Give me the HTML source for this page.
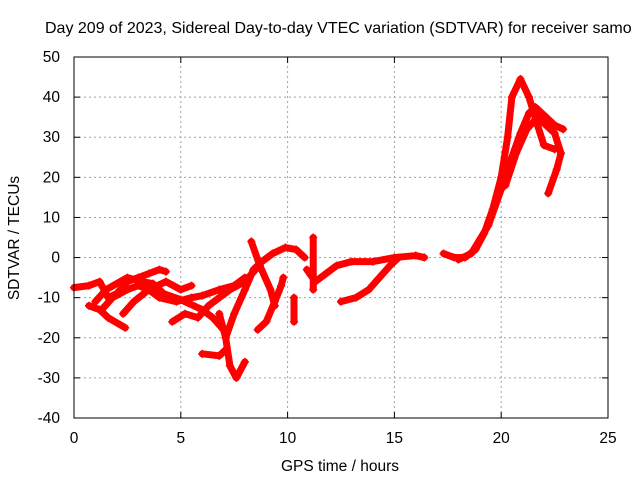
<!DOCTYPE html>
<html><head><meta charset="utf-8"><style>
body{margin:0;background:#fff}
svg text{font-family:"Liberation Sans",sans-serif;font-size:15.5px;fill:#000}
</style></head><body>
<svg id="chart" width="640" height="480">
<text x="45" y="33" style="font-size:16px">Day 209 of 2023, Sidereal Day-to-day VTEC variation (SDTVAR) for receiver samo</text>
<text x="340" y="471" text-anchor="middle">GPS time / hours</text>
<text transform="translate(19,238) rotate(-90)" text-anchor="middle">SDTVAR / TECUs</text>
<g id="grid"></g><g id="ticks"></g><g id="series"></g>
<rect x="74" y="57" width="534" height="361" fill="none" stroke="#000"/>
</svg>
<script>
const xTicks=[0,5,10,15,20,25];
const yTicks=[-40,-30,-20,-10,0,10,20,30,40,50];
const tracks=[
[[0,-7.5],[0.7,-7],[1.2,-6],[1.6,-10],[2.0,-9],[2.5,-6],[3,-5],[3.5,-4],[4,-3],[4.3,-3.5]],
[[0.7,-12],[1.2,-13],[1.6,-15],[2.4,-17.5]],
[[1.3,-13],[1.8,-10],[2.5,-8],[3,-7],[3.5,-8],[4,-10],[4.8,-11],[5.5,-10],[6,-9.5],[6.8,-8],[7.5,-7],[8,-5]],
[[1,-11],[1.5,-8],[2.5,-5],[3.2,-6],[3.7,-6.5],[4.2,-9],[5,-10.5],[6,-13],[6.5,-15],[7,-18]],
[[2.3,-14],[2.8,-11],[3.5,-8],[4.3,-6],[5,-8],[5.5,-7]],
[[4.6,-16],[5.2,-14],[5.8,-15],[6.3,-12],[6.8,-10],[7.3,-8],[8,-6],[8.5,-3]],
[[7.1,-20],[7.5,-14],[8,-8],[8.4,-3],[8.8,-1],[9.3,1],[9.9,2.5],[10.4,2],[10.8,0]],
[[6.8,-14],[7.1,-20],[7.3,-27],[7.6,-30],[8,-26]],
[[6,-24],[6.8,-24.5],[7.1,-23]],
[[8.3,4],[8.7,-2],[9.2,-8],[9.4,-12]],
[[8.6,-18],[9,-16],[9.4,-11],[9.7,-7],[9.8,-5]],
[[10.3,-10],[10.3,-16]],
[[11.2,5],[11.2,-8]],
[[10.9,-3],[11.3,-6],[11.8,-4],[12.3,-2],[13,-1],[14,-1],[15,0],[16,0.5],[16.4,0]],
[[12.5,-11],[13.2,-10],[13.8,-8],[14.3,-5],[14.8,-2],[15.2,0]],
[[17.3,1],[17.8,0],[18.3,0],[18.8,2],[19.2,6],[19.6,12],[20,20],[20.3,30],[20.5,40],[20.9,44.5],[21.3,40],[21.7,33],[22,28],[22.5,27]],
[[18,-0.5],[18.6,1],[19.4,8],[20,17],[20.5,25],[20.9,31],[21.3,36],[21.6,37.5],[22.1,35],[22.5,33],[22.9,32]],
[[20.2,18],[20.7,26],[21.2,32],[21.7,35],[22.1,33],[22.5,31],[22.8,26],[22.6,22],[22.2,16]]
];
const X0=74,X1=608,Y0=418,Y1=57;
const xs=h=>X0+(h-0)/25*(X1-X0);
const ys=v=>Y0-(v+40)/90*(Y0-Y1);
const NS='http://www.w3.org/2000/svg';
const grid=document.getElementById('grid'),ticks=document.getElementById('ticks'),ser=document.getElementById('series');
function mk(t,a,p){const e=document.createElementNS(NS,t);for(const k in a)e.setAttribute(k,a[k]);p.appendChild(e);return e;}
xTicks.forEach(t=>{const x=xs(t);
 if(t>0&&t<25){const g=mk('line',{x1:x,x2:x,y1:Y0,y2:Y1,stroke:'#a0a0a0','stroke-dasharray':'2,3'},grid);
 
 }
 mk('line',{x1:x,x2:x,y1:Y0,y2:Y0-6,stroke:'#000'},ticks);mk('line',{x1:x,x2:x,y1:Y1,y2:Y1+6,stroke:'#000'},ticks);
 const l=mk('text',{x:x,y:443,'text-anchor':'middle'},ticks);l.textContent=t;
 
 });
yTicks.forEach(t=>{const y=ys(t);
 if(t>-40&&t<50){const g=mk('line',{x1:X0,x2:X1,y1:y,y2:y,stroke:'#a0a0a0','stroke-dasharray':'2,3'},grid);
 
 }
 mk('line',{x1:X0,x2:X0+6,y1:y,y2:y,stroke:'#000'},ticks);mk('line',{x1:X1,x2:X1-6,y1:y,y2:y,stroke:'#000'},ticks);
 const l=mk('text',{x:60,y:y+5,'text-anchor':'end'},ticks);l.textContent=t;
 
 });
tracks.forEach((tr,i)=>{
 const pts=tr.map(p=>xs(p[0])+','+ys(p[1])).join(' ');
 const pl=mk('polyline',{points:pts,fill:'none',stroke:'#ff0000','stroke-width':7,'stroke-linejoin':'round','stroke-linecap':'round'},ser);
 
 
 tr.forEach(p=>{const x=xs(p[0]),y=ys(p[1]);
  const m=mk('path',{d:`M${x-4},${y}H${x+4}M${x},${y-4}V${y+4}`,stroke:'#ff0000','stroke-width':1.5},ser);
  
  });
});
</script>
</body></html>
